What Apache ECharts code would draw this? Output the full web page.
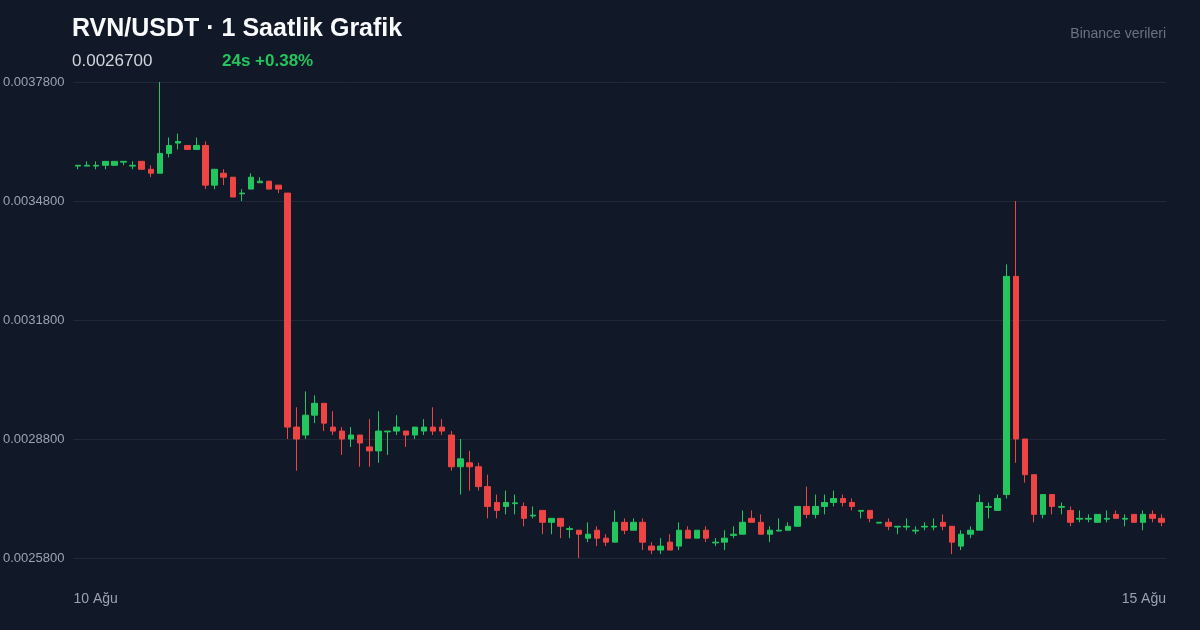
<!DOCTYPE html>
<html>
<head>
<meta charset="utf-8">
<script src="https://cdn.jsdelivr.net/npm/echarts@6/dist/echarts.min.js"></script>
<style>
html,body{margin:0;padding:0;background:#111827;}
#chart{width:1200px;height:630px;}
</style>
</head>
<body>
<div id="chart"></div>
<script>
// OHLC values (hourly candles, 10 Ağu -> 15 Ağu)
const openVals = [
0.003568,0.003568,0.003568,0.00357,0.00357,0.003578,0.003568,0.00358,0.00356,0.00355,
0.0036,0.003626,0.00362,0.00361,0.00362,0.00352,0.00355,0.00354,0.003498,0.00351,
0.003526,0.00353,0.00352,0.0035,0.00291,0.00289,0.00294,0.00297,0.00291,0.0029,
0.00288,0.00289,0.00286,0.00285,0.002898,0.0029,0.0029,0.00289,0.0029,0.00291,
0.00291,0.00289,0.00281,0.00282,0.00281,0.00276,0.00272,0.00271,0.002717,0.00271,
0.002686,0.0027,0.00267,0.00268,0.002652,0.00265,0.00263,0.00265,0.00263,0.00262,
0.00267,0.00265,0.00267,0.00261,0.0026,0.00262,0.00261,0.00265,0.00263,0.00265,
0.002618,0.00262,0.002637,0.00264,0.00268,0.00267,0.00264,0.002648,0.00265,0.00266,
0.00271,0.00269,0.00271,0.00272,0.00273,0.00272,0.002698,0.0027,0.002668,0.00267,
0.002658,0.002658,0.002648,0.002658,0.002658,0.00267,0.00266,0.00261,0.00264,0.00265,
0.002708,0.0027,0.00274,0.00329,0.00288,0.00279,0.00269,0.00274,0.002708,0.0027,
0.002678,0.002678,0.00267,0.002678,0.00269,0.002678,0.00269,0.00267,0.00269,0.00268
];
const closeVals = [
0.00357,0.00357,0.00357,0.00358,0.00358,0.00358,0.00357,0.00356,0.00355,0.0036,
0.00362,0.00363,0.00361,0.00362,0.00352,0.00356,0.00354,0.00349,0.0035,0.00354,
0.00353,0.00351,0.00351,0.00291,0.00288,0.00294,0.00297,0.00292,0.0029,0.00288,
0.00289,0.00287,0.00285,0.0029,0.0029,0.00291,0.00289,0.00291,0.00291,0.0029,
0.0029,0.00281,0.00283,0.00281,0.00276,0.00271,0.0027,0.00272,0.002719,0.00268,
0.002688,0.00267,0.00268,0.00266,0.002654,0.00264,0.00264,0.00263,0.00262,0.00267,
0.00265,0.00267,0.00262,0.0026,0.00261,0.0026,0.00265,0.00263,0.00265,0.00263,
0.00262,0.00263,0.00264,0.00267,0.00267,0.00264,0.00265,0.00265,0.00266,0.00271,
0.00269,0.00271,0.00272,0.00273,0.00272,0.00271,0.0027,0.00268,0.00267,0.00266,
0.00266,0.00266,0.00265,0.00266,0.00266,0.00266,0.00262,0.00264,0.00265,0.00272,
0.00271,0.00273,0.00329,0.00288,0.00279,0.00269,0.00274,0.00271,0.00271,0.00267,
0.00268,0.00268,0.00269,0.00268,0.00268,0.00268,0.00267,0.00269,0.00268,0.00267
];
const lowVals = [
0.00356,0.003568,0.00356,0.00356,0.00357,0.00357,0.00356,0.00356,0.00354,0.00355,
0.00359,0.00361,0.00361,0.00361,0.00351,0.00351,0.00352,0.00349,0.00348,0.00351,
0.003526,0.00351,0.0035,0.00288,0.0028,0.00288,0.00292,0.0029,0.00289,0.00284,
0.00286,0.00281,0.00281,0.00282,0.00284,0.00289,0.00286,0.00288,0.00289,0.00289,
0.00289,0.0028,0.00274,0.00275,0.00275,0.00268,0.00268,0.00269,0.00269,0.00266,
0.00268,0.00264,0.00264,0.00263,0.00263,0.00258,0.00262,0.00261,0.00261,0.00262,
0.00264,0.00265,0.0026,0.00259,0.00259,0.0026,0.0026,0.00263,0.00263,0.00262,
0.00261,0.0026,0.00263,0.00264,0.00267,0.00264,0.00262,0.002648,0.00265,0.00266,
0.00268,0.00268,0.00269,0.00271,0.00271,0.0027,0.00268,0.00267,0.002668,0.00265,
0.00264,0.00265,0.00264,0.00265,0.00265,0.00265,0.00259,0.0026,0.00263,0.00265,
0.00268,0.0027,0.00273,0.00282,0.00277,0.00267,0.00268,0.00269,0.00269,0.00266,
0.00267,0.00267,0.00267,0.00267,0.00268,0.00266,0.00267,0.00265,0.00267,0.00266
];
const highVals = [
0.00357,0.00358,0.00358,0.00358,0.00358,0.00358,0.00358,0.00358,0.00357,0.00378,
0.00364,0.00365,0.00362,0.00364,0.00363,0.00356,0.00356,0.00354,0.00351,0.00355,
0.00354,0.00353,0.00352,0.0035,0.00296,0.003,0.00299,0.00297,0.00295,0.00291,
0.00291,0.00289,0.00293,0.00295,0.0029,0.00294,0.0029,0.00291,0.00293,0.00296,
0.00293,0.0029,0.00288,0.00285,0.00282,0.00279,0.00274,0.00275,0.00274,0.00272,
0.00271,0.0027,0.00268,0.00268,0.00266,0.00265,0.00267,0.00266,0.00264,0.0027,
0.00268,0.00268,0.00268,0.00262,0.00263,0.00264,0.00267,0.00266,0.00265,0.00266,
0.00263,0.00265,0.00266,0.0027,0.0027,0.00269,0.00266,0.00268,0.00267,0.00271,
0.00276,0.00274,0.00274,0.00275,0.00274,0.00273,0.0027,0.0027,0.00267,0.00268,
0.00266,0.00268,0.00266,0.00267,0.00268,0.00269,0.00266,0.00265,0.00266,0.00274,
0.00272,0.00274,0.00332,0.00348,0.00288,0.00279,0.00274,0.00274,0.00272,0.00271,
0.0027,0.00269,0.00269,0.0027,0.0027,0.00269,0.00269,0.0027,0.0027,0.00269
];
const yTicks = { min: 0.00258, max: 0.00378, interval: 0.0003 };
const dateLabels = ['10 Ağu', '15 Ağu'];
const titleText = 'RVN/USDT · 1 Saatlik Grafik';
const lastPrice = '0.0026700';
const changeText = '24s +0.38%';
const sourceText = 'Binance verileri';

const UP = '#22c55e', DOWN = '#ef4444';
const FONT = '"Liberation Sans", Arial, Helvetica, sans-serif';

const hours = openVals.map((_, i) => String(i));
const ohlc = openVals.map((o, i) => [o, closeVals[i], lowVals[i], highVals[i]]);

const chart = echarts.init(document.getElementById('chart'), null, { renderer: 'canvas' });
chart.setOption({
  backgroundColor: '#111827',
  animation: false,
  textStyle: { fontFamily: FONT },
  title: [
    { text: titleText, left: 72, top: 17, padding: 0,
      textStyle: { color: '#f9fafb', fontSize: 25, fontWeight: 'bold', fontFamily: FONT } },
    { text: lastPrice, left: 72, top: 53, padding: 0,
      textStyle: { color: '#d1d5db', fontSize: 17, fontWeight: 'normal', fontFamily: FONT } },
    { text: changeText, left: 222, top: 53, padding: 0,
      textStyle: { color: UP, fontSize: 17, fontWeight: 'bold', fontFamily: FONT } },
    { text: sourceText, right: 34, top: 27, padding: 0,
      textStyle: { color: '#6b7280', fontSize: 14, fontWeight: 'normal', fontFamily: FONT } }
  ],
  grid: { left: 72, right: 34, top: 82, bottom: 72, containLabel: false },
  xAxis: [
    { type: 'category', data: hours, position: 'top', boundaryGap: true,
      axisLine: { show: false }, axisTick: { show: false }, axisLabel: { show: false },
      splitLine: { show: false } },
    { type: 'value', position: 'bottom', min: 0, max: 1, interval: 1,
      axisLine: { show: false }, axisTick: { show: false }, splitLine: { show: false },
      axisLabel: { color: '#9ca3af', fontSize: 14, margin: 34, fontFamily: FONT,
        alignMinLabel: 'left', alignMaxLabel: 'right',
        formatter: v => dateLabels[Math.round(v)] } }
  ],
  yAxis: {
    type: 'value', position: 'left', scale: true,
    min: yTicks.min, max: yTicks.max, interval: yTicks.interval,
    axisLine: { show: false }, axisTick: { show: false },
    splitLine: { lineStyle: { color: '#1f2937', width: 1 } },
    axisLabel: { color: '#9ca3af', fontSize: 13, margin: 9, fontFamily: FONT,
      formatter: v => v.toFixed(7) }
  },
  series: [{
    type: 'candlestick', xAxisIndex: 0, yAxisIndex: 0,
    data: ohlc, barWidth: 6,
    itemStyle: { color: UP, color0: DOWN, borderColor: UP, borderColor0: DOWN, borderWidth: 1 }
  }]
});
</script>
</body>
</html>
